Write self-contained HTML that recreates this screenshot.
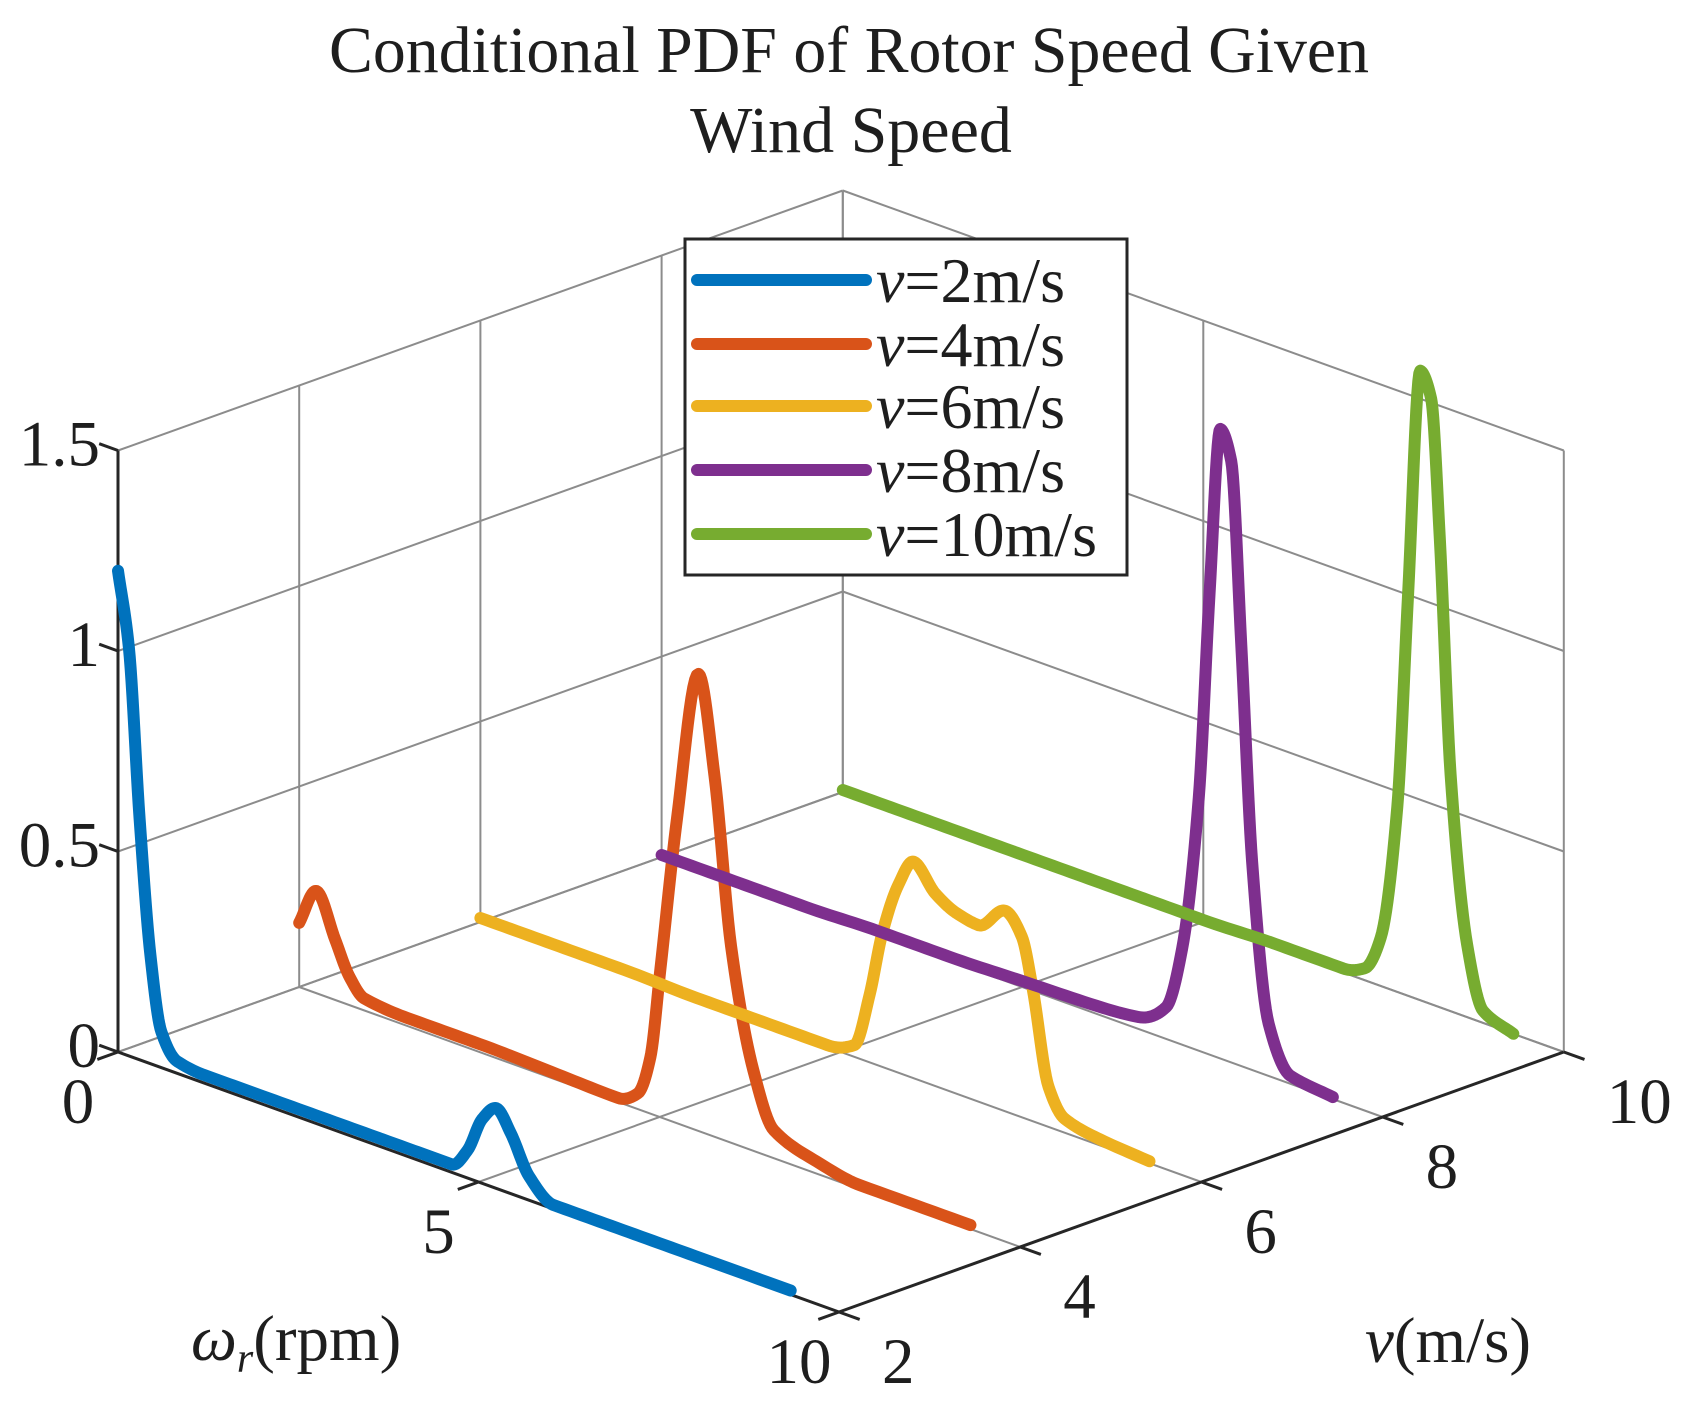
<!DOCTYPE html>
<html><head><meta charset="utf-8"><style>
html,body{margin:0;padding:0;background:#fff}
svg{display:block}
text{font-family:"Liberation Serif",serif;fill:#1e1e1e}
</style></head><body>
<svg id="chart" width="1688" height="1408" viewBox="0 0 1688 1408" xmlns="http://www.w3.org/2000/svg">
<g>
<text x="849" y="72" font-size="66" text-anchor="middle" textLength="1040" lengthAdjust="spacingAndGlyphs">Conditional PDF of Rotor Speed Given</text>
<text x="851" y="152" font-size="66" text-anchor="middle">Wind Speed</text>
</g>
<g id="grid"></g>
<g id="axes"></g>
<g id="series"></g>
<text x="191" y="1360" font-size="65"><tspan font-style="italic">ω</tspan><tspan font-style="italic" font-size="42" dy="12">r</tspan><tspan dy="-12">(rpm)</tspan></text>
<text x="1365" y="1362" font-size="65"><tspan font-style="italic">v</tspan>(m/s)</text>
<g id="legend"></g>
</svg>
<script>
const omegaTicks=[0,5,10];
const vTicks=[2,4,6,8,10];
const zTicks=[0,0.5,1,1.5];
const zTickLabels=["0","0.5","1","1.5"];
const seriesV=[2,4,6,8,10];
const seriesNames=["v=2m/s","v=4m/s","v=6m/s","v=8m/s","v=10m/s"];
const colors=["#0072BD","#D95319","#EDB120","#7E2F8E","#77AC30"];
const w2=[0,0.15,0.3,0.45,0.6,0.82,1.2,2,3,4,4.63,4.85,5.05,5.25,5.45,5.7,6.04,7,8,9.33];
const z2=[1.2,1.02,0.6,0.27,0.09,0.03,0.02,0.02,0.02,0.02,0.02,0.07,0.16,0.2,0.15,0.06,0.01,0.01,0.01,0.01];
const w4=[0,0.24,0.5,0.7,0.9,1.5,2.5,3.5,4.42,4.7,4.87,5.01,5.24,5.54,5.76,5.99,6.3,6.58,7.18,7.78,9.31];
const z4=[0.16,0.255,0.15,0.07,0.03,0.02,0.02,0.015,0.01,0.04,0.14,0.37,0.76,1.14,0.9,0.49,0.2,0.07,0.03,0.01,0.01];
const w6=[0,1,2,3,4,4.82,5.19,5.4,5.57,5.8,6.01,6.31,6.61,6.91,7.28,7.51,7.66,7.88,8.1,8.6,9.28];
const z6=[0.01,0.01,0.01,0.005,0.005,0.005,0.03,0.17,0.33,0.47,0.54,0.48,0.45,0.44,0.5,0.45,0.33,0.1,0.035,0.015,0.005];
const w8=[0,1,2,3,4,5,6.03,6.62,7,7.22,7.45,7.6,7.75,7.9,8.04,8.19,8.42,8.72,9.31];
const z8=[0.005,0.005,0.005,0.01,0.01,0.015,0.02,0.03,0.08,0.24,0.63,1.15,1.57,1.5,1.05,0.52,0.13,0.02,0.005];
const w10=[0,1,2,3,4,5,6,6.94,7.24,7.46,7.69,7.84,8.01,8.16,8.28,8.43,8.66,8.88,9.3];
const z10=[0.005,0.005,0.005,0.005,0.005,0.005,0.01,0.01,0.03,0.12,0.46,1.0,1.57,1.51,1.17,0.59,0.18,0.03,0.0];
const omegaSeries=[w2,w4,w6,w8,w10];
const zSeries=[z2,z4,z6,z8,z10];

const NS="http://www.w3.org/2000/svg";
function P(w,v,z){return [118+72.1*w+90.6*(v-2), 1052+26*w-32.5*(v-2)-401*z];}
function mk(tag,attrs,parent){const e=document.createElementNS(NS,tag);for(const k in attrs)e.setAttribute(k,attrs[k]);parent.appendChild(e);return e;}
function line(a,b,stroke,sw,parent){return mk('line',{x1:a[0],y1:a[1],x2:b[0],y2:b[1],stroke:stroke,'stroke-width':sw},parent);}
// monotone cubic interpolation (Fritsch-Carlson)
function monotone(xs,ys){const n=xs.length,d=[],m=new Array(n);
for(let i=0;i<n-1;i++)d.push((ys[i+1]-ys[i])/(xs[i+1]-xs[i]));
m[0]=d[0];m[n-1]=d[n-2];
for(let i=1;i<n-1;i++){if(d[i-1]*d[i]<=0)m[i]=0;else{const h0=xs[i]-xs[i-1],h1=xs[i+1]-xs[i];m[i]=3*(h0+h1)/((2*h1+h0)/d[i-1]+(h1+2*h0)/d[i]);}}
const out=[];
for(let i=0;i<n-1;i++){const h=xs[i+1]-xs[i];const N=12;
for(let k=0;k<N;k++){const t=k/N,t2=t*t,t3=t2*t;
const y=(2*t3-3*t2+1)*ys[i]+(t3-2*t2+t)*h*m[i]+(-2*t3+3*t2)*ys[i+1]+(t3-t2)*h*m[i+1];
out.push([xs[i]+t*h,y]);}}
out.push([xs[n-1],ys[n-1]]);return out;}
const grid=document.getElementById('grid'),axes=document.getElementById('axes'),ser=document.getElementById('series'),leg=document.getElementById('legend');
const GC="#8c8c8c";
for(const v of vTicks){const l=line(P(0,v,0),P(0,v,1.5),GC,2,grid);

}
for(const z of zTicks){const l=line(P(0,2,z),P(0,10,z),GC,2,grid);


const l2=line(P(0,10,z),P(10,10,z),GC,2,grid);

}
for(const w of omegaTicks){const l=line(P(w,10,0),P(w,10,1.5),GC,2,grid);


const l2=line(P(w,2,0),P(w,10,0),GC,2,grid);

}
for(const v of vTicks){const l=line(P(0,v,0),P(10,v,0),GC,2,grid);

}
const AC="#262626";
line(P(0,2,0),P(0,2,1.5),AC,3,axes);
line(P(0,2,0),P(10,2,0),AC,3,axes);
line(P(10,2,0),P(10,10,0),AC,3,axes);
const wd=[-90.6,32.5],wl=Math.hypot(...wd);
for(const w of omegaTicks){const a=P(w,2,0);const b=[a[0]+wd[0]/wl*22,a[1]+wd[1]/wl*22];line(a,b,AC,3,axes);
const t=mk('text',{x:a[0]-40,y:a[1]+50,'font-size':65,'text-anchor':'middle','dominant-baseline':'central'},axes);t.textContent=String(w);

}
const vd=[72.1,26],vl=Math.hypot(...vd);
for(const v of vTicks){const a=P(10,v,0);const b=[a[0]+vd[0]/vl*22,a[1]+vd[1]/vl*22];line(a,b,AC,3,axes);
const t=mk('text',{x:a[0]+43,y:a[1]+50,'font-size':65,'dominant-baseline':'central'},axes);t.textContent=String(v);

}
zTicks.forEach((z,i)=>{const a=P(0,2,z);const b=[a[0]-vd[0]/vl*20,a[1]-vd[1]/vl*20];line(a,b,AC,3,axes);
const t=mk('text',{x:100,y:a[1]-6,'font-size':65,'text-anchor':'end','dominant-baseline':'central'},axes);t.textContent=zTickLabels[i];

});
seriesV.forEach((v,i)=>{const sm=monotone(omegaSeries[i],zSeries[i]);
const pts=sm.map(p=>P(p[0],v,p[1]).join(',')).join(' ');
const pl=mk('polyline',{points:pts,fill:'none',stroke:colors[i],'stroke-width':12,'stroke-linejoin':'round','stroke-linecap':'round'},ser);

});
const box=mk('rect',{x:685,y:239,width:442,height:336,fill:'#fff',stroke:AC,'stroke-width':3},leg);


const ly=[280,344,406,470,534];
seriesV.forEach((v,i)=>{const g=mk('g',{},leg);


mk('line',{x1:697,y1:ly[i],x2:866,y2:ly[i],stroke:colors[i],'stroke-width':12,'stroke-linecap':'round'},g);
const t=mk('text',{x:876,y:ly[i]+22,'font-size':64},g);
const ts=mk('tspan',{'font-style':'italic'},t);ts.textContent='v';
const ts2=mk('tspan',{},t);ts2.textContent=seriesNames[i].slice(1);});
</script>
</body></html>
